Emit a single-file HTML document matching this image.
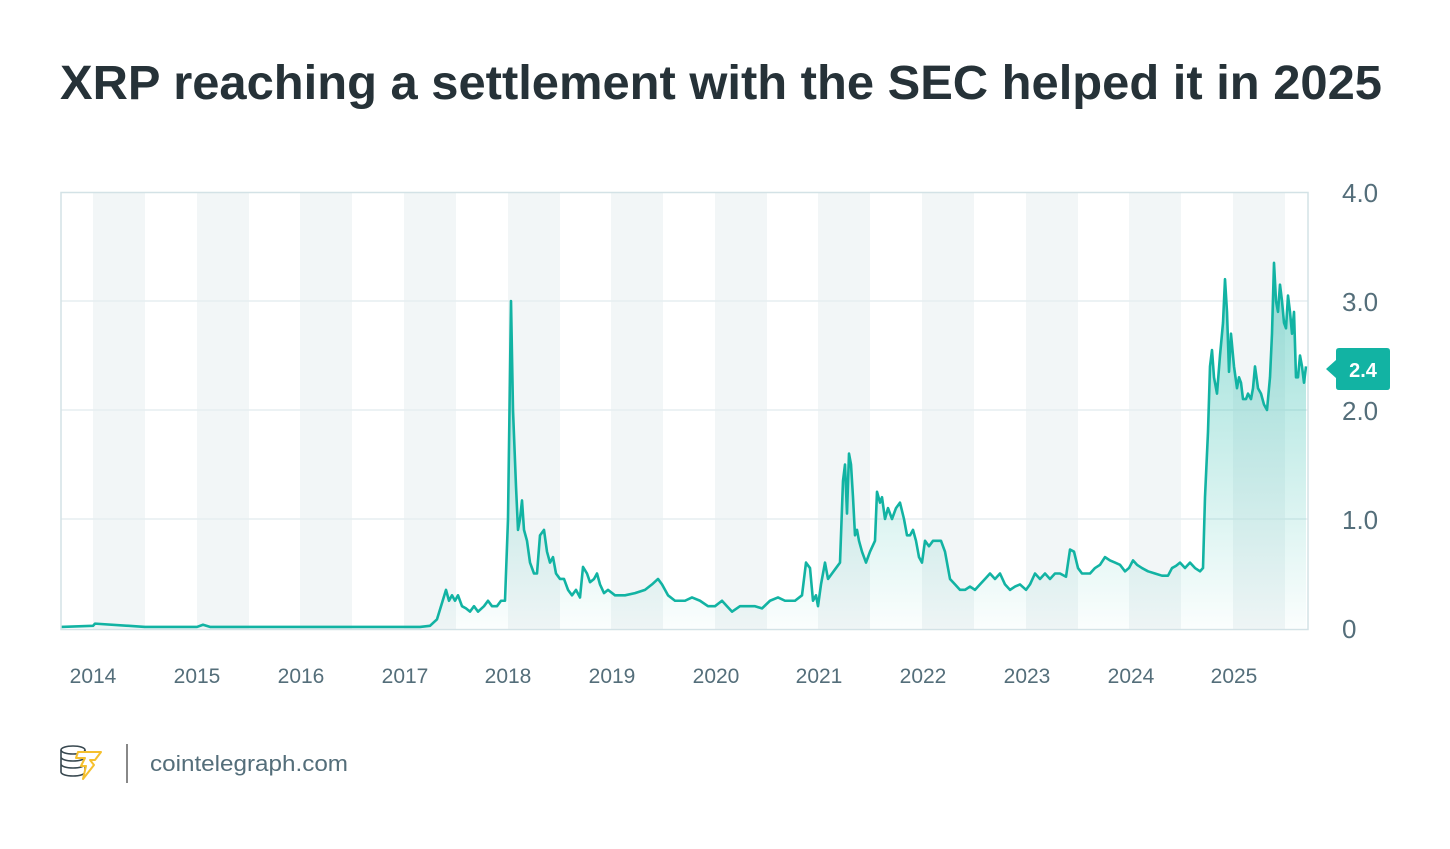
<!DOCTYPE html>
<html><head><meta charset="utf-8"><style>
body{margin:0;width:1450px;height:844px;background:#fff;overflow:hidden;font-family:"Liberation Sans",sans-serif}
</style></head><body>
<svg width="1450" height="844" xmlns="http://www.w3.org/2000/svg">
<defs>
<linearGradient id="g" x1="0" y1="0" x2="0" y2="1">
<stop offset="0" stop-color="#19b6a6" stop-opacity="0.02"/>
<stop offset="1" stop-color="#19b6a6" stop-opacity="0.45"/>
</linearGradient>
</defs>
<text x="60" y="99" font-size="48" font-weight="bold" fill="#263238" textLength="1322" lengthAdjust="spacingAndGlyphs" font-family="Liberation Sans, sans-serif">XRP reaching a settlement with the SEC helped it in 2025</text>
<g fill="#f2f6f7">
<rect x="93" y="193" width="52" height="436"/><rect x="197" y="193" width="52" height="436"/>
<rect x="300" y="193" width="52" height="436"/><rect x="404" y="193" width="52" height="436"/>
<rect x="508" y="193" width="52" height="436"/><rect x="611" y="193" width="52" height="436"/>
<rect x="715" y="193" width="52" height="436"/><rect x="818" y="193" width="52" height="436"/>
<rect x="922" y="193" width="52" height="436"/><rect x="1026" y="193" width="52" height="436"/>
<rect x="1129" y="193" width="52" height="436"/><rect x="1233" y="193" width="52" height="436"/>
</g>
<g stroke="#e6eef0" stroke-width="1.5">
<line x1="61" x2="1308" y1="301" y2="301"/><line x1="61" x2="1308" y1="410" y2="410"/><line x1="61" x2="1308" y1="519" y2="519"/>
</g>
<g transform="translate(0,628) scale(1,-109)">
<polygon fill="url(#g)" points="61,0 61,0.01 93,0.02 95,0.04 145,0.01 197,0.01 203,0.03 210,0.01 420,0.01 430,0.02 437,0.08 441,0.2 446,0.35 449,0.25 452,0.3 455,0.25 458,0.3 462,0.2 466,0.18 470,0.15 474,0.2 478,0.15 484,0.2 488,0.25 492,0.2 497,0.2 501,0.25 505,0.25 508,1.0 511,3.0 513,2.0 516,1.3 518,0.9 520,1.0 522,1.17 524,0.9 527,0.8 530,0.6 534,0.5 537,0.5 540,0.85 544,0.9 547,0.7 550,0.6 553,0.65 556,0.5 560,0.45 564,0.45 568,0.35 572,0.3 576,0.35 580,0.28 583,0.56 587,0.5 590,0.42 594,0.45 597,0.5 600,0.4 604,0.32 608,0.35 615,0.3 625,0.3 635,0.32 645,0.35 652,0.4 658,0.45 662,0.4 668,0.3 675,0.25 685,0.25 692,0.28 700,0.25 708,0.2 715,0.2 722,0.25 727,0.2 732,0.15 740,0.2 748,0.2 755,0.2 762,0.18 770,0.25 778,0.28 785,0.25 795,0.25 802,0.3 806,0.6 810,0.55 813,0.25 816,0.3 818,0.2 821,0.4 825,0.6 828,0.45 832,0.5 836,0.55 840,0.6 843,1.35 845,1.5 847,1.05 849,1.6 851,1.5 853,1.2 855,0.85 857,0.9 859,0.8 862,0.7 866,0.6 870,0.7 875,0.8 877,1.25 880,1.15 882,1.2 885,1.0 888,1.1 892,1.0 896,1.1 900,1.15 904,1.0 907,0.85 910,0.85 913,0.9 916,0.8 919,0.65 922,0.6 925,0.8 929,0.75 933,0.8 937,0.8 941,0.8 945,0.7 950,0.45 955,0.4 960,0.35 965,0.35 970,0.38 975,0.35 980,0.4 985,0.45 990,0.5 995,0.45 1000,0.5 1005,0.4 1010,0.35 1015,0.38 1020,0.4 1026,0.35 1030,0.4 1035,0.5 1040,0.45 1045,0.5 1050,0.45 1055,0.5 1060,0.5 1066,0.47 1070,0.72 1074,0.7 1078,0.55 1082,0.5 1090,0.5 1095,0.55 1100,0.58 1105,0.65 1110,0.62 1115,0.6 1120,0.58 1125,0.52 1129,0.55 1133,0.62 1137,0.58 1142,0.55 1148,0.52 1155,0.5 1162,0.48 1168,0.48 1172,0.55 1176,0.57 1180,0.6 1185,0.55 1190,0.6 1195,0.55 1200,0.52 1203,0.55 1205,1.2 1208,1.8 1210,2.4 1212,2.55 1214,2.3 1217,2.15 1220,2.5 1223,2.8 1225,3.2 1227,2.9 1229,2.35 1231,2.7 1234,2.4 1237,2.2 1239,2.3 1241,2.25 1243,2.1 1246,2.1 1248,2.15 1251,2.1 1253,2.2 1255,2.4 1258,2.2 1261,2.15 1264,2.05 1267,2.0 1270,2.3 1272,2.7 1274,3.35 1276,3.0 1278,2.9 1280,3.15 1282,3.0 1284,2.8 1286,2.75 1288,3.05 1290,2.9 1292,2.7 1294,2.9 1296,2.3 1298,2.3 1300,2.5 1302,2.4 1304,2.25 1306,2.4 1306,0"/>
<polyline fill="none" stroke="#12b3a3" stroke-width="2.6" stroke-linejoin="round" vector-effect="non-scaling-stroke" points="61,0.01 93,0.02 95,0.04 145,0.01 197,0.01 203,0.03 210,0.01 420,0.01 430,0.02 437,0.08 441,0.2 446,0.35 449,0.25 452,0.3 455,0.25 458,0.3 462,0.2 466,0.18 470,0.15 474,0.2 478,0.15 484,0.2 488,0.25 492,0.2 497,0.2 501,0.25 505,0.25 508,1.0 511,3.0 513,2.0 516,1.3 518,0.9 520,1.0 522,1.17 524,0.9 527,0.8 530,0.6 534,0.5 537,0.5 540,0.85 544,0.9 547,0.7 550,0.6 553,0.65 556,0.5 560,0.45 564,0.45 568,0.35 572,0.3 576,0.35 580,0.28 583,0.56 587,0.5 590,0.42 594,0.45 597,0.5 600,0.4 604,0.32 608,0.35 615,0.3 625,0.3 635,0.32 645,0.35 652,0.4 658,0.45 662,0.4 668,0.3 675,0.25 685,0.25 692,0.28 700,0.25 708,0.2 715,0.2 722,0.25 727,0.2 732,0.15 740,0.2 748,0.2 755,0.2 762,0.18 770,0.25 778,0.28 785,0.25 795,0.25 802,0.3 806,0.6 810,0.55 813,0.25 816,0.3 818,0.2 821,0.4 825,0.6 828,0.45 832,0.5 836,0.55 840,0.6 843,1.35 845,1.5 847,1.05 849,1.6 851,1.5 853,1.2 855,0.85 857,0.9 859,0.8 862,0.7 866,0.6 870,0.7 875,0.8 877,1.25 880,1.15 882,1.2 885,1.0 888,1.1 892,1.0 896,1.1 900,1.15 904,1.0 907,0.85 910,0.85 913,0.9 916,0.8 919,0.65 922,0.6 925,0.8 929,0.75 933,0.8 937,0.8 941,0.8 945,0.7 950,0.45 955,0.4 960,0.35 965,0.35 970,0.38 975,0.35 980,0.4 985,0.45 990,0.5 995,0.45 1000,0.5 1005,0.4 1010,0.35 1015,0.38 1020,0.4 1026,0.35 1030,0.4 1035,0.5 1040,0.45 1045,0.5 1050,0.45 1055,0.5 1060,0.5 1066,0.47 1070,0.72 1074,0.7 1078,0.55 1082,0.5 1090,0.5 1095,0.55 1100,0.58 1105,0.65 1110,0.62 1115,0.6 1120,0.58 1125,0.52 1129,0.55 1133,0.62 1137,0.58 1142,0.55 1148,0.52 1155,0.5 1162,0.48 1168,0.48 1172,0.55 1176,0.57 1180,0.6 1185,0.55 1190,0.6 1195,0.55 1200,0.52 1203,0.55 1205,1.2 1208,1.8 1210,2.4 1212,2.55 1214,2.3 1217,2.15 1220,2.5 1223,2.8 1225,3.2 1227,2.9 1229,2.35 1231,2.7 1234,2.4 1237,2.2 1239,2.3 1241,2.25 1243,2.1 1246,2.1 1248,2.15 1251,2.1 1253,2.2 1255,2.4 1258,2.2 1261,2.15 1264,2.05 1267,2.0 1270,2.3 1272,2.7 1274,3.35 1276,3.0 1278,2.9 1280,3.15 1282,3.0 1284,2.8 1286,2.75 1288,3.05 1290,2.9 1292,2.7 1294,2.9 1296,2.3 1298,2.3 1300,2.5 1302,2.4 1304,2.25 1306,2.4"/>
</g>
<rect x="61" y="192.5" width="1247" height="437" fill="none" stroke="#d3e2e6" stroke-width="1.5"/>
<g font-size="26" fill="#546e7a">
<text x="1342" y="202">4.0</text><text x="1342" y="311">3.0</text><text x="1342" y="420">2.0</text><text x="1342" y="529">1.0</text><text x="1342" y="638">0</text>
</g>
<path d="M1326,369 L1336,360 L1336,351 Q1336,348 1339,348 L1387,348 Q1390,348 1390,351 L1390,387 Q1390,390 1387,390 L1339,390 Q1336,390 1336,387 L1336,378 Z" fill="#12b3a3"/>
<text x="1363" y="377" font-size="20" font-weight="bold" fill="#fff" text-anchor="middle">2.4</text>
<g font-size="21" fill="#546e7a" text-anchor="middle">
<text x="93" y="683">2014</text><text x="197" y="683">2015</text><text x="301" y="683">2016</text><text x="405" y="683">2017</text><text x="508" y="683">2018</text><text x="612" y="683">2019</text><text x="716" y="683">2020</text><text x="819" y="683">2021</text><text x="923" y="683">2022</text><text x="1027" y="683">2023</text><text x="1131" y="683">2024</text><text x="1234" y="683">2025</text>
</g>
<g fill="none" stroke="#37474f" stroke-width="1.6">
<ellipse cx="73" cy="750" rx="12" ry="4"/>
<path d="M61,750 v22 a12,4 0 0 0 24,0 v-22 M61,757 a12,4 0 0 0 24,0 M61,764 a12,4 0 0 0 24,0"/>
</g>
<path d="M78,752 L101,752 L95,760 L90,760 L94,765 L83,779 L86,766 L81,766 L85,758 L76,758 Z" fill="#fff" stroke="#f5c02e" stroke-width="2" stroke-linejoin="round"/>
<line x1="127" y1="744" x2="127" y2="783" stroke="#888" stroke-width="2"/>
<text x="150" y="771" font-size="22" fill="#546e7a" textLength="198" lengthAdjust="spacingAndGlyphs">cointelegraph.com</text>
</svg>
</body></html>
